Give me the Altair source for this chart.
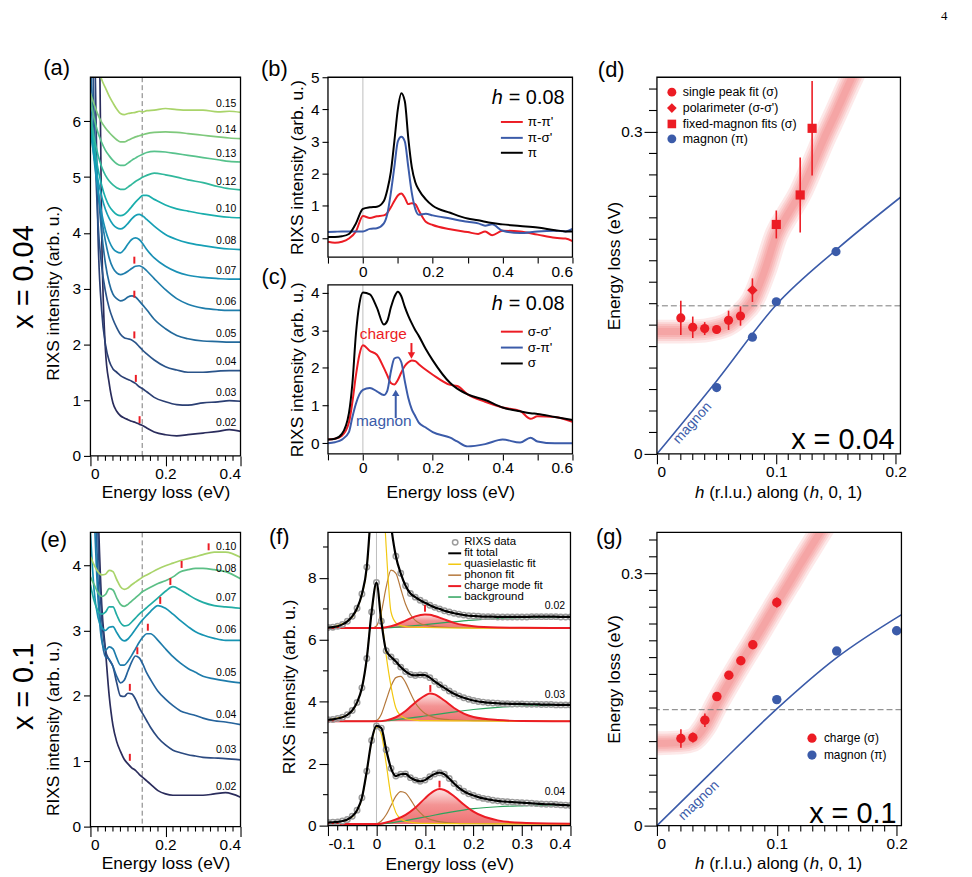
import altair as alt
import pandas as pd

FONT = "Liberation Sans"
RED = "#ec1c24"
BLUE = "#3b5ba9"
DASH_GREY = "#7a7a7a"
ZERO_GREY = "#bdbdbd"
TICK_FS = 15.5
TITLE_FS = 17.5
E_REF = 0.138  # dashed reference energy (eV)

# ---------------- (a) x = 0.04 stacked spectra ----------------
E_A = [0, 0.01, 0.02, 0.03, 0.04, 0.05, 0.06, 0.07, 0.08, 0.09, 0.10, 0.11,
       0.12, 0.13, 0.14, 0.15, 0.17, 0.20, 0.23, 0.26, 0.30, 0.34, 0.37, 0.40]
H_A = ["0.02", "0.03", "0.04", "0.05", "0.06", "0.07", "0.08", "0.10", "0.12", "0.13", "0.14", "0.15"]
A_SPECTRA = [
    [15, 13, 10, 4.0, 1.9, 1.3, 0.95, 0.8, 0.72, 0.68, 0.65, 0.62, 0.6, 0.57, 0.54, 0.5, 0.43, 0.38, 0.36, 0.38, 0.41, 0.44, 0.47, 0.44],
    [15, 8, 4.0, 2.6, 2.0, 1.7, 1.56, 1.5, 1.44, 1.4, 1.37, 1.34, 1.3, 1.24, 1.2, 1.15, 1.05, 0.97, 0.92, 0.91, 0.95, 0.97, 0.99, 0.98],
    [9, 6, 4.2, 3.4, 2.95, 2.65, 2.45, 2.3, 2.18, 2.12, 2.1, 2.08, 2.03, 1.96, 1.89, 1.83, 1.72, 1.6, 1.54, 1.5, 1.5, 1.52, 1.53, 1.53],
    [7.0, 5.8, 4.8, 4.0, 3.45, 3.1, 2.9, 2.82, 2.78, 2.8, 2.85, 2.87, 2.85, 2.78, 2.7, 2.62, 2.45, 2.28, 2.16, 2.1, 2.06, 2.05, 2.04, 2.04],
    [6.3, 5.5, 4.8, 4.25, 3.85, 3.55, 3.37, 3.28, 3.25, 3.27, 3.31, 3.36, 3.4, 3.41, 3.38, 3.32, 3.18, 2.98, 2.82, 2.72, 2.65, 2.62, 2.61, 2.61],
    [6.0, 5.3, 4.75, 4.35, 4.05, 3.85, 3.72, 3.66, 3.64, 3.7, 3.8, 3.88, 3.91, 3.88, 3.8, 3.7, 3.55, 3.4, 3.3, 3.24, 3.2, 3.18, 3.17, 3.17],
    [5.8, 5.35, 4.95, 4.65, 4.42, 4.26, 4.15, 4.09, 4.07, 4.1, 4.17, 4.25, 4.31, 4.33, 4.3, 4.24, 4.12, 3.97, 3.88, 3.82, 3.77, 3.73, 3.71, 3.70],
    [6.0, 5.55, 5.15, 4.85, 4.63, 4.48, 4.39, 4.33, 4.31, 4.33, 4.39, 4.47, 4.55, 4.62, 4.67, 4.67, 4.6, 4.5, 4.43, 4.39, 4.34, 4.3, 4.28, 4.27],
    [6.1, 5.7, 5.4, 5.18, 5.03, 4.93, 4.86, 4.81, 4.78, 4.78, 4.82, 4.87, 4.92, 4.96, 5.0, 5.03, 5.07, 5.04, 5.0, 4.95, 4.9, 4.83, 4.79, 4.77],
    [6.4, 6.05, 5.8, 5.62, 5.48, 5.38, 5.3, 5.24, 5.21, 5.21, 5.25, 5.3, 5.34, 5.38, 5.41, 5.44, 5.46, 5.45, 5.42, 5.39, 5.35, 5.31, 5.28, 5.27],
    [6.5, 6.3, 6.12, 5.98, 5.88, 5.8, 5.73, 5.67, 5.63, 5.63, 5.66, 5.69, 5.72, 5.74, 5.76, 5.78, 5.8, 5.81, 5.8, 5.78, 5.75, 5.72, 5.7, 5.69],
    [8.0, 7.5, 7.0, 6.75, 6.6, 6.45, 6.33, 6.22, 6.14, 6.12, 6.14, 6.15, 6.16, 6.18, 6.17, 6.19, 6.2, 6.23, 6.21, 6.2, 6.2, 6.17, 6.18, 6.16],
]
A_COLORS = ["#2a2c5c", "#2b3f73", "#2a548a", "#236a9c", "#1f7dab", "#1a90b5",
            "#169fb5", "#1aaeac", "#31b89c", "#57c28c", "#7fc97c", "#a9d46a"]
A_PEAK_E = [0.131, 0.121, 0.117, 0.117, 0.117]
A_PEAK_I = [0.65, 1.39, 2.17, 2.90, 3.51]

# ---------------- (e) x = 0.1 stacked spectra ----------------
E_E = [0, 0.01, 0.02, 0.03, 0.04, 0.05, 0.06, 0.07, 0.08, 0.09, 0.10, 0.11, 0.12, 0.13,
       0.14, 0.15, 0.16, 0.18, 0.20, 0.22, 0.24, 0.26, 0.28, 0.30, 0.33, 0.36, 0.40]
H_E = ["0.02", "0.03", "0.04", "0.05", "0.06", "0.07", "0.08", "0.10"]
E_SPECTRA = [
    [12, 8, 5, 3.4, 2.7, 2.0, 1.55, 1.3, 1.15, 1.03, 0.96, 0.9, 0.86, 0.8, 0.75, 0.7, 0.65, 0.55, 0.5, 0.48, 0.48, 0.48, 0.48, 0.48, 0.5, 0.52, 0.45],
    [10, 7, 4.5, 3.2, 2.7, 2.55, 2.45, 2.2, 2.0, 1.99, 2.04, 2.03, 1.95, 1.82, 1.72, 1.62, 1.52, 1.36, 1.25, 1.17, 1.13, 1.1, 1.08, 1.06, 1.05, 1.04, 1.02],
    [8, 5.5, 3.8, 2.9, 2.6, 2.56, 2.45, 2.3, 2.2, 2.24, 2.38, 2.52, 2.61, 2.58, 2.48, 2.35, 2.25, 2.07, 1.95, 1.85, 1.77, 1.73, 1.7, 1.66, 1.62, 1.6, 1.56],
    [6.5, 4.8, 3.5, 2.85, 2.7, 2.75, 2.72, 2.58, 2.47, 2.47, 2.53, 2.62, 2.72, 2.82, 2.9, 2.95, 2.95, 2.85, 2.72, 2.6, 2.5, 2.42, 2.36, 2.3, 2.26, 2.23, 2.2],
    [4.5, 3.6, 3.2, 3.05, 3.0, 3.05, 3.06, 2.97, 2.88, 2.84, 2.87, 2.94, 3.02, 3.1, 3.17, 3.23, 3.29, 3.38, 3.34, 3.25, 3.15, 3.06, 2.98, 2.93, 2.88, 2.85, 2.85],
    [3.7, 3.45, 3.3, 3.25, 3.28, 3.36, 3.36, 3.24, 3.12, 3.07, 3.08, 3.13, 3.19, 3.25, 3.3, 3.35, 3.4, 3.5, 3.6, 3.67, 3.62, 3.55, 3.48, 3.43, 3.38, 3.36, 3.34],
    [3.82, 3.7, 3.58, 3.52, 3.55, 3.64, 3.62, 3.5, 3.4, 3.37, 3.4, 3.45, 3.5, 3.55, 3.6, 3.63, 3.66, 3.72, 3.76, 3.82, 3.9, 3.93, 3.95, 3.95, 3.93, 3.9, 3.79],
    [4.13, 4.0, 3.9, 3.85, 3.86, 3.92, 3.9, 3.78, 3.67, 3.63, 3.65, 3.7, 3.74, 3.78, 3.82, 3.85, 3.88, 3.94, 3.99, 4.03, 4.07, 4.1, 4.13, 4.16, 4.2, 4.2, 4.12],
]
E_COLORS = ["#2a2c5c", "#2b4a80", "#25639c", "#1e7cab", "#1794b2", "#22aca4", "#5cbf86", "#a9d46a"]
E_PEAK_E = [0.105, 0.105, 0.125, 0.153, 0.186, 0.213, 0.243, 0.315]
E_PEAK_I = [1.06, 2.13, 2.69, 3.05, 3.46, 3.75, 4.01, 4.28]

# ---------------- (b) pi incident polarisation, h = 0.08 ----------------
E_B = [-0.1, -0.08, -0.06, -0.04, -0.02, 0, 0.02, 0.04, 0.06, 0.07, 0.08, 0.09, 0.10, 0.11, 0.12, 0.13,
       0.14, 0.15, 0.16, 0.18, 0.2, 0.25, 0.3, 0.33, 0.35, 0.37, 0.4, 0.45, 0.5, 0.55, 0.58, 0.6]
B_PIPI = [-0.12, -0.15, -0.12, -0.02, 0.2, 0.68, 0.62, 0.67, 0.7, 0.78, 0.95, 1.15, 1.32, 1.38, 1.25, 1.05,
          1.08, 1.05, 0.85, 0.5, 0.4, 0.27, 0.18, 0.12, 0.2, 0.08, 0.22, 0.2, 0.1, 0.0, -0.02, -0.1]
B_PISIG = [0.18, 0.19, 0.2, 0.2, 0.2, 0.2, 0.28, 0.3, 0.45, 0.75, 1.4, 2.2, 3.0, 3.15, 3.0, 2.2,
           1.4, 0.9, 0.72, 0.75, 0.7, 0.6, 0.5, 0.45, 0.38, 0.42, 0.22, 0.15, 0.2, 0.22, 0.2, 0.28]
B_PI = [0.03, 0.03, 0.05, 0.12, 0.45, 0.9, 0.95, 0.97, 1.15, 1.5, 2.05, 3.0, 4.0, 4.5, 4.25, 3.1,
        2.2, 1.73, 1.5, 1.2, 1.0, 0.78, 0.6, 0.55, 0.5, 0.46, 0.42, 0.37, 0.32, 0.24, 0.2, 0.2]

# ---------------- (c) sigma incident polarisation, h = 0.08 ----------------
E_C = [-0.1, -0.08, -0.06, -0.04, -0.03, -0.02, -0.01, 0, 0.02, 0.04, 0.06, 0.07, 0.08, 0.09, 0.10, 0.11, 0.12,
       0.13, 0.14, 0.15, 0.16, 0.18, 0.2, 0.25, 0.27, 0.3, 0.35, 0.4, 0.45, 0.48, 0.5, 0.55, 0.6]
C_SIGSIG = [0.1, 0.12, 0.2, 0.55, 1.1, 1.8, 2.35, 2.6, 2.45, 2.35, 2.0, 1.8, 1.6, 1.56, 1.68, 1.88, 2.05,
            2.15, 2.2, 2.18, 2.1, 1.95, 1.82, 1.55, 1.52, 1.3, 1.1, 0.95, 0.86, 0.65, 0.72, 0.7, 0.57]
C_SIGPI = [0.0, 0.03, 0.1, 0.3, 0.7, 1.05, 1.3, 1.42, 1.47, 1.38, 1.28, 1.4, 1.9, 2.25, 2.28, 2.15, 1.65,
           1.2, 0.9, 0.72, 0.55, 0.42, 0.3, 0.15, 0.05, -0.08, -0.02, 0.1, 0.02, 0.15, 0.05, 0.0, 0.0]
C_SIG = [0.1, 0.12, 0.25, 0.8, 1.6, 2.9, 3.7, 4.0, 3.95, 3.6, 3.15, 3.25, 3.6, 3.88, 4.02, 3.9, 3.62,
         3.38, 3.18, 3.0, 2.85, 2.5, 2.2, 1.6, 1.45, 1.3, 1.15, 0.95, 0.85, 0.8, 0.78, 0.7, 0.62]

# ---------------- (d) dispersion, x = 0.04 ----------------
D_SINGLE_H = [0.02, 0.03, 0.04, 0.05, 0.06, 0.07]
D_SINGLE_E = [0.1267, 0.118, 0.1168, 0.1159, 0.1245, 0.1285]
D_SINGLE_ERR = [0.016, 0.010, 0.006, 0.004, 0.009, 0.009]
D_POL_H = [0.08]
D_POL_E = [0.1526]
D_POL_ERR = [0.011]
D_FIX_H = [0.10, 0.12, 0.13]
D_FIX_E = [0.2138, 0.2413, 0.3034]
D_FIX_ERR = [0.013, 0.035, 0.044]
D_MAG_H = [0.05, 0.08, 0.10, 0.15]
D_MAG_E = [0.0618, 0.1088, 0.1418, 0.1885]
D_BAND_H = [0, 0.02, 0.04, 0.05, 0.06, 0.07, 0.08, 0.09, 0.10, 0.11, 0.12, 0.13, 0.14, 0.15, 0.16, 0.17]
D_BAND_E = [0.114, 0.114, 0.115, 0.117, 0.121, 0.13, 0.143, 0.17, 0.204, 0.224, 0.243, 0.268, 0.294, 0.318, 0.343, 0.367]
D_DISP_H = [0, 0.05, 0.10, 0.15, 0.205]
D_DISP_E = [0, 0.068, 0.139, 0.19, 0.24]

# ---------------- (g) dispersion, x = 0.1 ----------------
G_CH_H = [0.02, 0.03, 0.04, 0.05, 0.06, 0.07, 0.08, 0.10]
G_CH_E = [0.1037, 0.1049, 0.1255, 0.1536, 0.179, 0.1963, 0.2153, 0.2656]
G_CH_ERR = [0.011, 0.006, 0.008, 0.004, 0.003, 0.003, 0.005, 0.006]
G_MAG_H = [0.10, 0.15, 0.20]
G_MAG_E = [0.150, 0.2078, 0.232]
G_BAND_H = [0, 0.02, 0.03, 0.04, 0.05, 0.06, 0.07, 0.08, 0.09, 0.10, 0.11, 0.12, 0.13, 0.14, 0.15]
G_BAND_E = [0.098, 0.099, 0.102, 0.118, 0.145, 0.17, 0.194, 0.217, 0.241, 0.265, 0.288, 0.312, 0.335, 0.358, 0.38]
G_DISP_H = [0, 0.05, 0.10, 0.15, 0.205]
G_DISP_E = [0, 0.07, 0.139, 0.2, 0.252]

# ---------------- (f) fits of the x = 0.1 spectra ----------------
F_H = ["0.02", "0.03", "0.04"]
F_BASE = [6.38, 3.37, 0.05]
E_F = [round(-0.1 + 0.01 * i, 2) for i in range(51)]
F_TOTAL = [
    [6.40, 6.41, 6.44, 6.50, 6.60, 6.76, 7.02, 7.48, 8.35, 10.5,
     13.0, 12.5, 11.2, 9.7, 8.7, 8.15, 7.75, 7.5, 7.38, 7.28,
     7.2, 7.12, 7.05, 7.0, 6.94, 6.9, 6.86, 6.83, 6.8, 6.78,
     6.77, 6.76, 6.75, 6.75, 6.75, 6.74, 6.74, 6.74, 6.74, 6.74,
     6.74, 6.74, 6.75, 6.75, 6.75, 6.75, 6.75, 6.75, 6.74, 6.74, 6.74],
    [3.42, 3.43, 3.46, 3.50, 3.58, 3.72, 3.98, 4.45, 5.4, 6.9,
     7.85, 6.6, 5.65, 5.45, 5.3, 5.12, 4.98, 4.88, 4.85, 4.87,
     4.86, 4.78, 4.66, 4.55, 4.45, 4.35, 4.26, 4.19, 4.13, 4.08,
     4.04, 4.01, 3.99, 3.97, 3.96, 3.95, 3.94, 3.94, 3.93, 3.93,
     3.93, 3.92, 3.92, 3.92, 3.91, 3.91, 3.91, 3.9, 3.9, 3.9, 3.9],
    [0.10, 0.11, 0.12, 0.15, 0.2, 0.3, 0.5, 0.9, 1.76, 2.75,
     3.22, 3.15, 2.45, 1.85, 1.6, 1.66, 1.67, 1.55, 1.47, 1.43,
     1.47, 1.58, 1.67, 1.71, 1.66, 1.52, 1.36, 1.22, 1.11, 1.03,
     0.97, 0.92, 0.88, 0.85, 0.82, 0.8, 0.78, 0.77, 0.76, 0.75,
     0.74, 0.73, 0.72, 0.71, 0.7, 0.69, 0.69, 0.68, 0.67, 0.66, 0.65],
]
E_QE = [-0.1, -0.06, -0.04, -0.03, -0.02, -0.01, 0, 0.01, 0.02, 0.03, 0.04, 0.05, 0.06, 0.08, 0.1, 0.2, 0.4]
F_QE = [
    [6.40, 6.60, 7.0, 7.45, 8.3, 10.5, 13.0, 12.0, 9.0, 6.9, 6.55, 6.46, 6.43, 6.41, 6.40, 6.38, 6.38],
    [3.42, 3.58, 3.98, 4.45, 5.4, 6.9, 7.8, 6.8, 5.5, 4.5, 3.8, 3.55, 3.46, 3.41, 3.39, 3.38, 3.37],
    [0.08, 0.19, 0.48, 0.88, 1.74, 2.72, 3.18, 2.95, 2.0, 0.95, 0.42, 0.22, 0.14, 0.09, 0.07, 0.06, 0.05],
]
E_PH = [-0.1, -0.01, 0, 0.01, 0.02, 0.03, 0.04, 0.05, 0.06, 0.07, 0.08, 0.09, 0.1, 0.12, 0.15, 0.2, 0.4]
F_PH = [
    [6.38, 6.38, 6.45, 6.9, 7.7, 8.25, 8.15, 7.65, 7.15, 6.82, 6.63, 6.53, 6.48, 6.43, 6.4, 6.39, 6.38],
    [3.37, 3.37, 3.4, 3.6, 4.05, 4.5, 4.78, 4.82, 4.62, 4.28, 3.97, 3.76, 3.62, 3.49, 3.42, 3.39, 3.37],
    [0.05, 0.05, 0.06, 0.15, 0.35, 0.65, 0.95, 1.1, 1.05, 0.85, 0.6, 0.42, 0.28, 0.16, 0.09, 0.06, 0.05],
]
E_CH = [-0.1, 0, 0.02, 0.04, 0.06, 0.08, 0.1, 0.11, 0.12, 0.13, 0.14, 0.16, 0.18, 0.2, 0.25, 0.3, 0.4]
F_CH = [
    [6.38, 6.38, 6.41, 6.49, 6.62, 6.76, 6.82, 6.81, 6.77, 6.72, 6.66, 6.55, 6.48, 6.44, 6.4, 6.39, 6.38],
    [3.37, 3.37, 3.4, 3.5, 3.7, 3.98, 4.2, 4.27, 4.24, 4.15, 4.04, 3.8, 3.62, 3.51, 3.41, 3.38, 3.37],
    [0.05, 0.05, 0.1, 0.2, 0.35, 0.58, 0.88, 1.02, 1.13, 1.18, 1.15, 0.95, 0.68, 0.45, 0.17, 0.09, 0.06],
]
E_BG = [-0.1, 0, 0.05, 0.1, 0.15, 0.2, 0.25, 0.3, 0.35, 0.4]
F_BG = [
    [6.38, 6.38, 6.42, 6.49, 6.57, 6.64, 6.69, 6.72, 6.73, 6.74],
    [3.37, 3.37, 3.44, 3.54, 3.65, 3.75, 3.82, 3.86, 3.88, 3.9],
    [0.05, 0.05, 0.14, 0.28, 0.43, 0.55, 0.61, 0.64, 0.66, 0.66],
]
F_PEAK_E = [0.1, 0.111, 0.13]
F_PEAK_I = [7.02, 4.43, 1.34]
F_LABEL_I = [7.09, 4.22, 1.07]

# ---------------- tick positions ----------------
MINOR_SPEC_X = [round(0.02 * i, 2) for i in range(1, 20) if i % 10 != 0]
MINOR_DISP_X = [round(0.01 * i, 2) for i in range(1, 20) if i % 10 != 0]
MINOR_DISP_Y = [round(0.02 * i, 2) for i in range(1, 18) if i != 15]
MINOR_FIT_X = [round(-0.1 + 0.02 * i, 2) for i in range(1, 25) if i % 5 != 0]
MINOR_FIT_Y = [1, 3, 5, 7, 9]

LBL1 = ("datum.value < 0 ? '-' + format(-datum.value, '.1f') : "
        "(datum.value == 0 ? '0' : format(datum.value, '.1f'))")
LBL_EVEN = ("abs(round(datum.value * 10)) % 2 == 0 ? "
            "(datum.value == 0 ? '0' : format(datum.value, '.1f')) : ''")


def scale(lo, hi, rng=None):
    if rng is None:
        return alt.Scale(domain=[lo, hi], nice=False, zero=False)
    return alt.Scale(domain=[lo, hi], range=rng, nice=False, zero=False)


def one():
    return pd.DataFrame({"k": [0]})


def text(s, x, y, size, color="black", align="center", baseline="middle",
         angle=None, italic=False, font=FONT):
    props = dict(font=font, fontSize=size, color=color, align=align, baseline=baseline)
    if angle is not None:
        props["angle"] = angle
    if italic:
        props["fontStyle"] = "italic"
    return alt.Chart(pd.DataFrame({"s": [s]})).mark_text(**props).encode(
        text="s:N", x=alt.value(x), y=alt.value(y))


def key_line(x0, x1, y, color, width):
    return alt.Chart(one()).mark_rule(color=color, strokeWidth=width).encode(
        x=alt.value(x0), x2=alt.value(x1), y=alt.value(y))


def key_symbol(x, y, shape, color, size, filled=True):
    return alt.Chart(one()).mark_point(shape=shape, filled=filled, color=color, size=size,
                                       opacity=1, strokeWidth=1.5).encode(
        x=alt.value(x), y=alt.value(y))


def box_anchors(left, top, right, bottom):
    # invisible corners fixing the extent each panel occupies in the grid
    return [alt.Chart(one()).mark_rule(opacity=0, color="white").encode(
                x=alt.value(left), x2=alt.value(left + 0.01), y=alt.value(top), y2=alt.value(top + 0.01)),
            alt.Chart(one()).mark_rule(opacity=0, color="white").encode(
                x=alt.value(right - 0.01), x2=alt.value(right), y=alt.value(bottom - 0.01), y2=alt.value(bottom))]


def frame(sx, sy):
    xd, yd = sx.domain, sy.domain
    df = pd.DataFrame({"x0": [xd[0]], "x1": [xd[1]], "y0": [yd[0]], "y1": [yd[1]]})
    return alt.Chart(df).mark_rect(fillOpacity=0, stroke="black", strokeWidth=1.3).encode(
        x=alt.X("x0:Q", scale=sx, axis=None), x2="x1:Q",
        y=alt.Y("y0:Q", scale=sy, axis=None), y2="y1:Q")


def minor_x(values, sx, y_at, length):
    return alt.Chart(pd.DataFrame({"t": values})).mark_rule(color="black", strokeWidth=1.1).encode(
        x=alt.X("t:Q", scale=sx, axis=None), y=alt.value(y_at), y2=alt.value(y_at + length))


def minor_y(values, sy, length):
    return alt.Chart(pd.DataFrame({"t": values})).mark_rule(color="black", strokeWidth=1.1).encode(
        y=alt.Y("t:Q", scale=sy, axis=None), x=alt.value(0), x2=alt.value(-length))


def vline(value, sx, color, dash=None, width=1.0, sy=None, span=None):
    props = dict(color=color, strokeWidth=width)
    if dash:
        props["strokeDash"] = dash
    if span is None:
        return alt.Chart(pd.DataFrame({"v": [value]})).mark_rule(**props).encode(
            x=alt.X("v:Q", scale=sx, axis=None))
    return alt.Chart(pd.DataFrame({"v": [value], "a": [span[0]], "b": [span[1]]})).mark_rule(**props).encode(
        x=alt.X("v:Q", scale=sx, axis=None), y=alt.Y("a:Q", scale=sy, axis=None), y2="b:Q")


def hline(value, sy, color, dash=None, width=1.0):
    props = dict(color=color, strokeWidth=width)
    if dash:
        props["strokeDash"] = dash
    return alt.Chart(pd.DataFrame({"v": [value]})).mark_rule(**props).encode(
        y=alt.Y("v:Q", scale=sy, axis=None))


def curve_table(grid, names, curves, colors):
    rows = []
    for name, vals, col in zip(names, curves, colors):
        for e, v in zip(grid, vals):
            rows.append({"E": e, "I": v, "h": name, "col": col})
    return pd.DataFrame(rows)


def peak_marks(mark_e, mark_i, half, sx, sy):
    df = pd.DataFrame({"E": mark_e, "lo": [v - half for v in mark_i], "hi": [v + half for v in mark_i]})
    return alt.Chart(df).mark_rule(color=RED, strokeWidth=2).encode(
        x=alt.X("E:Q", scale=sx, axis=None), y=alt.Y("lo:Q", scale=sy, axis=None), y2="hi:Q")


def panel(layers, width, height):
    # every layer carries identical explicit scales; guides come only from the layer that defines them
    return alt.layer(*layers).resolve_scale(x="independent", y="independent").properties(
        width=width, height=height)


# ---------------- stacked spectra panels (a) and (e) ----------------
def stack_panel(grid, names, curves, colors, peak_e, peak_i, ymax, yvals, height,
                letter, letter_xy, row_text, row_xy, ytitle_y, box):
    sx, sy = scale(0, 0.4), scale(0, ymax)
    xaxis = alt.Axis(values=[0, 0.2, 0.4], tickSize=10, labelExpr=LBL1, labelPadding=1, orient="bottom",
                     title="Energy loss (eV)", titleY=37, titleBaseline="middle")
    yaxis = alt.Axis(values=yvals, tickSize=7, format="d", labelPadding=3, orient="left",
                     title="RIXS intensity (arb. u.)", titleX=-37, titleY=ytitle_y,
                     titleAngle=270, titleAlign="center", titleBaseline="middle")
    lines = alt.Chart(curve_table(grid, names, curves, colors)).mark_line(
        clip=True, strokeWidth=1.7, interpolate="monotone").encode(
        x=alt.X("E:Q", scale=sx, axis=xaxis), y=alt.Y("I:Q", scale=sy, axis=yaxis),
        color=alt.Color("col:N", scale=None), detail="h:N")
    lab = pd.DataFrame({"E": [0.362] * len(names), "I": [c[-1] + 0.15 for c in curves], "t": names})
    labels = alt.Chart(lab).mark_text(font=FONT, fontSize=10.5, color="black").encode(
        x=alt.X("E:Q", scale=sx, axis=None), y=alt.Y("I:Q", scale=sy, axis=None), text="t:N")
    half = 3.5 * ymax / height
    layers = [minor_x(MINOR_SPEC_X, sx, height, 5), vline(E_REF, sx, DASH_GREY, [5, 3]), lines,
              peak_marks(peak_e, peak_i, half, sx, sy), labels, frame(sx, sy),
              text(letter, letter_xy[0], letter_xy[1], 22),
              text(row_text, row_xy[0], row_xy[1], 29, angle=270)] + box_anchors(*box)
    return panel(layers, 151, height)


panel_a = stack_panel(E_A, H_A, A_SPECTRA, A_COLORS, A_PEAK_E, A_PEAK_I, 6.79, list(range(7)), 381,
                      "(a)", (-34, -9), "x = 0.04", (-67, 201), 217, (-90, -74, 165, 436))
panel_e = stack_panel(E_E, H_E, E_SPECTRA, E_COLORS, E_PEAK_E, E_PEAK_I, 4.5, list(range(5)), 296,
                      "(e)", (-37, 8), "x = 0.1", (-67, 155), 197, (-90, -20, 165, 347))


# ---------------- polarisation panels (b) and (c), sharing one view ----------------
def pol_layers(grid, series, names, colors, ylo, yhi, yvals, top, bottom, xtitle, key_y, letter):
    sx = scale(-0.1, 0.6)
    sy = scale(ylo, yhi, [bottom, top])
    rows = []
    for name, vals, col in zip(names, series, colors):
        for e, v in zip(grid, vals):
            rows.append({"E": e, "I": v, "s": name, "col": col})
    xaxis = alt.Axis(values=[-0.1, 0, 0.1, 0.2, 0.3, 0.4, 0.5, 0.6], tickSize=6, labelExpr=LBL_EVEN,
                     labelPadding=1, orient="bottom", offset=bottom - 379,
                     title=xtitle, titleY=39, titleBaseline="middle")
    yaxis = alt.Axis(values=yvals, tickSize=6, format="d", labelPadding=3, orient="left",
                     title="RIXS intensity (arb. u.)", titleX=-31, titleAngle=270,
                     titleAlign="center", titleBaseline="middle")
    lines = alt.Chart(pd.DataFrame(rows)).mark_line(strokeWidth=2, interpolate="monotone").encode(
        x=alt.X("E:Q", scale=sx, axis=xaxis), y=alt.Y("I:Q", scale=sy, axis=yaxis),
        color=alt.Color("col:N", scale=None), detail="s:N")
    layers = [vline(0, sx, ZERO_GREY, sy=sy, span=(ylo, yhi)), lines, frame(sx, sy),
              text("h", 176, top + key_y[0], 20, align="right", italic=True),
              text("= 0.08", 238, top + key_y[0], 20, align="right")]
    for name, col, y in zip(names, colors, key_y[1:]):
        layers.append(key_line(174, 196, top + y, col, 2))
        layers.append(text(name, 201, top + y, 13.5, align="left"))
    layers.append(text(letter, -54, top - 8, 22))
    return layers, sx, sy


b_layers, _, _ = pol_layers(E_B, [B_PIPI, B_PISIG, B_PI], ["π-π'", "π-σ'", "π"], [RED, BLUE, "black"],
                            -0.6, 5, list(range(6)), 0, 181, None, [21, 45, 61, 76], "(b)")
c_layers, sxc, syc = pol_layers(E_C, [C_SIGSIG, C_SIGPI, C_SIG], ["σ-σ'", "σ-π'", "σ"], [RED, BLUE, "black"],
                                -0.28, 4.2, list(range(5)), 209, 379, "Energy loss (eV)", [19, 47, 63, 79], "(c)")

ANN_C = pd.DataFrame({"E": [0.0586, 0.06], "I": [2.89, 0.58], "t": ["charge", "magnon"], "col": [RED, BLUE]})
annot_c = alt.Chart(ANN_C).mark_text(font=FONT, fontSize=15.5).encode(
    x=alt.X("E:Q", scale=sxc, axis=None), y=alt.Y("I:Q", scale=syc, axis=None), text="t:N",
    color=alt.Color("col:N", scale=None))
ARROW_C = pd.DataFrame({"E": [0.139, 0.094], "a": [2.66, 0.67], "b": [2.36, 1.3], "col": [RED, BLUE]})
shafts_c = alt.Chart(ARROW_C).mark_rule(strokeWidth=2).encode(
    x=alt.X("E:Q", scale=sxc, axis=None), y=alt.Y("a:Q", scale=syc, axis=None), y2="b:Q",
    color=alt.Color("col:N", scale=None))
head_down = alt.Chart(pd.DataFrame({"E": [0.139], "I": [2.33]})).mark_point(
    shape="triangle-down", filled=True, color=RED, size=55, opacity=1).encode(
    x=alt.X("E:Q", scale=sxc, axis=None), y=alt.Y("I:Q", scale=syc, axis=None))
head_up = alt.Chart(pd.DataFrame({"E": [0.094], "I": [1.34]})).mark_point(
    shape="triangle-up", filled=True, color=BLUE, size=55, opacity=1).encode(
    x=alt.X("E:Q", scale=sxc, axis=None), y=alt.Y("I:Q", scale=syc, axis=None))

panel_bc = panel(b_layers + c_layers + [annot_c, shafts_c, head_down, head_up]
                 + box_anchors(-72, -74, 263, 436), 246, 379)


# ---------------- dispersion panels (d) and (g) ----------------
def h_title(y):
    # "h (r.l.u.) along (h, 0, 1)" assembled so both h's are italic
    fs = 17
    x0 = 122.5 - 9.893 * fs / 2
    return [text("h", x0, y, fs, align="left", italic=True),
            text("(r.l.u.) along (", x0 + 0.834 * fs, y, fs, align="left"),
            text("h", x0 + 6.780 * fs, y, fs, align="left", italic=True),
            text(", 0, 1)", x0 + 7.336 * fs, y, fs, align="left")]


def disp_base(height, ymax, band_h, band_e, disp_h, disp_e, mag_label, title_y):
    sx, sy = scale(0, 0.204), scale(0, ymax)
    xaxis = alt.Axis(values=[0, 0.1, 0.2], tickSize=10, labelExpr=LBL1, labelPadding=1,
                     orient="bottom", title=None)
    yaxis = alt.Axis(values=[0, 0.3], tickSize=13, labelExpr=LBL1, labelPadding=2, orient="left",
                     title="Energy loss (eV)", titleX=-43, titleAngle=270,
                     titleAlign="center", titleBaseline="middle")
    band_df = pd.DataFrame({"h": band_h, "E": band_e})
    layers = [minor_x(MINOR_DISP_X, sx, height, 6), minor_y(MINOR_DISP_Y, sy, 8)]
    for w in [24, 19, 15, 11, 7]:
        layers.append(alt.Chart(band_df).mark_line(clip=True, color="#f03a3a", strokeWidth=w, opacity=0.11,
                                                   interpolate="monotone", strokeCap="round").encode(
            x=alt.X("h:Q", scale=sx, axis=None), y=alt.Y("E:Q", scale=sy, axis=None)))
    layers.append(hline(E_REF, sy, DASH_GREY, [6, 3]))
    layers.append(alt.Chart(pd.DataFrame({"h": disp_h, "E": disp_e})).mark_line(
        clip=True, color=BLUE, strokeWidth=1.6, interpolate="monotone").encode(
        x=alt.X("h:Q", scale=sx, axis=xaxis), y=alt.Y("E:Q", scale=sy, axis=yaxis)))
    lh, le, ang = mag_label
    layers.append(alt.Chart(pd.DataFrame({"h": [lh], "E": [le], "t": ["magnon"]})).mark_text(
        font=FONT, fontSize=14, color=BLUE, angle=ang).encode(
        x=alt.X("h:Q", scale=sx, axis=None), y=alt.Y("E:Q", scale=sy, axis=None), text="t:N"))
    layers += h_title(title_y)
    return layers, sx, sy


def err_points(h, e, err, shape, color, size, sx, sy, bars=True):
    df = pd.DataFrame({"h": h, "E": e, "lo": [a - b for a, b in zip(e, err)],
                       "hi": [a + b for a, b in zip(e, err)]})
    out = []
    if bars:
        out.append(alt.Chart(df).mark_rule(color=color, strokeWidth=1.6).encode(
            x=alt.X("h:Q", scale=sx, axis=None), y=alt.Y("lo:Q", scale=sy, axis=None), y2="hi:Q"))
    out.append(alt.Chart(df).mark_point(shape=shape, filled=True, color=color, size=size, opacity=1).encode(
        x=alt.X("h:Q", scale=sx, axis=None), y=alt.Y("E:Q", scale=sy, axis=None)))
    return out


d_layers, sxd, syd = disp_base(379, 0.351, D_BAND_H, D_BAND_E, D_DISP_H, D_DISP_E,
                               (0.0298, 0.0287, 312), 418)
d_layers += err_points(D_SINGLE_H, D_SINGLE_E, D_SINGLE_ERR, "circle", RED, 85, sxd, syd)
d_layers += err_points(D_POL_H, D_POL_E, D_POL_ERR, "diamond", RED, 110, sxd, syd)
d_layers += err_points(D_FIX_H, D_FIX_E, D_FIX_ERR, "square", RED, 85, sxd, syd)
d_layers += err_points(D_MAG_H, D_MAG_E, [0] * len(D_MAG_H), "circle", BLUE, 85, sxd, syd, bars=False)
for (shape, col, size), label, y in zip(
        [("circle", RED, 80), ("diamond", RED, 95), ("square", RED, 75), ("circle", BLUE, 80)],
        ["single peak fit (σ)", "polarimeter (σ-σ')", "fixed-magnon fits (σ)", "magnon (π)"],
        [15, 31, 47, 62]):
    d_layers.append(key_symbol(15, y, shape, col, size))
    d_layers.append(text(label, 26, y, 12.5, align="left"))
d_layers.append(frame(sxd, syd))
d_layers.append(text("x = 0.04", 239, 374, 29, align="right", baseline="alphabetic"))
d_layers.append(text("(d)", -46, -7, 22))
d_layers.append(text("4", 289, -62, 13, font="Liberation Serif"))
d_layers += box_anchors(-66, -74, 316, 436)
panel_d = panel(d_layers, 245, 379)

g_layers, sxg, syg = disp_base(295, 0.349, G_BAND_H, G_BAND_E, G_DISP_H, G_DISP_E,
                               (0.035, 0.0297, 316), 334)
g_layers += err_points(G_CH_H, G_CH_E, G_CH_ERR, "circle", RED, 90, sxg, syg)
g_layers += err_points(G_MAG_H, G_MAG_E, [0] * len(G_MAG_H), "circle", BLUE, 90, sxg, syg, bars=False)
for col, label, y in zip([RED, BLUE], ["charge (σ)", "magnon (π)"], [207, 224]):
    g_layers.append(key_symbol(156, y, "circle", col, 85))
    g_layers.append(text(label, 168, y, 12, align="left"))
g_layers.append(frame(sxg, syg))
g_layers.append(text("x = 0.1", 241, 292, 29, align="right", baseline="alphabetic"))
g_layers.append(text("(g)", -48, 5, 22))
g_layers += box_anchors(-66, -20, 316, 347)
panel_g = panel(g_layers, 246, 295)

# ---------------- fit decomposition panel (f) ----------------
sxf, syf = scale(-0.1, 0.4), scale(0, 9.47)


def comp_table(grid, curves):
    rows = []
    for name, base, vals in zip(F_H, F_BASE, curves):
        for e, v in zip(grid, vals):
            rows.append({"E": e, "I": v, "base": base, "h": name})
    return pd.DataFrame(rows)


fx = alt.Axis(values=[-0.1, 0, 0.1, 0.2, 0.3, 0.4], tickSize=10, labelExpr=LBL1, labelPadding=1,
              orient="bottom", title="Energy loss (eV)", titleY=39, titleBaseline="middle")
fy = alt.Axis(values=[0, 2, 4, 6, 8], tickSize=9, format="d", labelPadding=3, orient="left",
              title="RIXS intensity (arb. u.)", titleX=-39, titleY=155, titleAngle=270,
              titleAlign="center", titleBaseline="middle")


def comp_line(grid, curves, color, width, axes=False):
    enc_x = alt.X("E:Q", scale=sxf, axis=fx if axes else None)
    enc_y = alt.Y("I:Q", scale=syf, axis=fy if axes else None)
    return alt.Chart(comp_table(grid, curves)).mark_line(
        clip=True, color=color, strokeWidth=width, interpolate="monotone").encode(
        x=enc_x, y=enc_y, detail="h:N")


charge_fill = alt.Chart(comp_table(E_CH, F_CH)).mark_area(
    clip=True, interpolate="monotone",
    color=alt.LinearGradient(gradient="linear", x1=0, x2=0, y1=0, y2=1,
                             stops=[alt.GradientStop(color="#fde6e6", offset=0),
                                    alt.GradientStop(color="#f39494", offset=0.45),
                                    alt.GradientStop(color="#ef7272", offset=1)])).encode(
    x=alt.X("E:Q", scale=sxf, axis=None), y=alt.Y("I:Q", scale=syf, axis=None), y2="base:Q",
    detail="h:N")
data_pts = alt.Chart(comp_table(E_F, F_TOTAL)).mark_point(
    clip=True, shape="circle", filled=False, color="#9c9c9c", size=30, strokeWidth=1.5, opacity=1).encode(
    x=alt.X("E:Q", scale=sxf, axis=None), y=alt.Y("I:Q", scale=syf, axis=None))
f_peaks = peak_marks(F_PEAK_E, F_PEAK_I, 0.11, sxf, syf)
f_labels = alt.Chart(pd.DataFrame({"E": [0.368] * 3, "I": F_LABEL_I, "t": F_H})).mark_text(
    font=FONT, fontSize=10.5).encode(
    x=alt.X("E:Q", scale=sxf, axis=None), y=alt.Y("I:Q", scale=syf, axis=None), text="t:N")

f_layers = [minor_x(MINOR_FIT_X, sxf, 295, 5), minor_y(MINOR_FIT_Y, syf, 5),
            vline(0, sxf, ZERO_GREY), charge_fill,
            comp_line(E_BG, F_BG, "#2ea35c", 1.2),
            comp_line(E_PH, F_PH, "#b5783c", 1.2),
            comp_line(E_QE, F_QE, "#f2c811", 1.2),
            comp_line(E_CH, F_CH, RED, 2),
            data_pts,
            comp_line(E_F, F_TOTAL, "black", 2.2, axes=True),
            f_peaks, f_labels, frame(sxf, syf),
            key_symbol(128, 10, "circle", "#9c9c9c", 30, filled=False)]
for col, w, label, y in zip(["black", "#f2c811", "#b5783c", RED, "#2ea35c"], [2, 1.5, 1.5, 2, 1.5],
                            ["fit total", "quasielastic fit", "phonon fit", "charge mode fit", "background"],
                            [21, 32, 43, 54, 65]):
    f_layers.append(key_line(121, 134, y, col, w))
    f_layers.append(text(label, 137, y, 11.5, align="left"))
f_layers.append(text("RIXS data", 137, 10, 11.5, align="left"))
f_layers.append(text("(f)", -49, 5, 22))
f_layers += box_anchors(-72, -20, 263, 347)
panel_f = panel(f_layers, 244, 295)

# ---------------- layout ----------------
row1 = alt.hconcat(panel_a, panel_bc, panel_d, spacing=0)
row2 = alt.hconcat(panel_e, panel_f, panel_g, spacing=0)

chart = alt.vconcat(row1, row2, spacing=0).properties(
    padding=0, background="white"
).configure_axis(
    labelFont=FONT, titleFont=FONT, labelFontSize=TICK_FS, titleFontSize=TITLE_FS,
    titleFontWeight="normal", labelColor="black", titleColor="black", tickColor="black",
    tickWidth=1.1, domain=False, grid=False
).configure_view(stroke="transparent")

chart.save("out.html", embed_options={"renderer": "svg", "actions": False})
